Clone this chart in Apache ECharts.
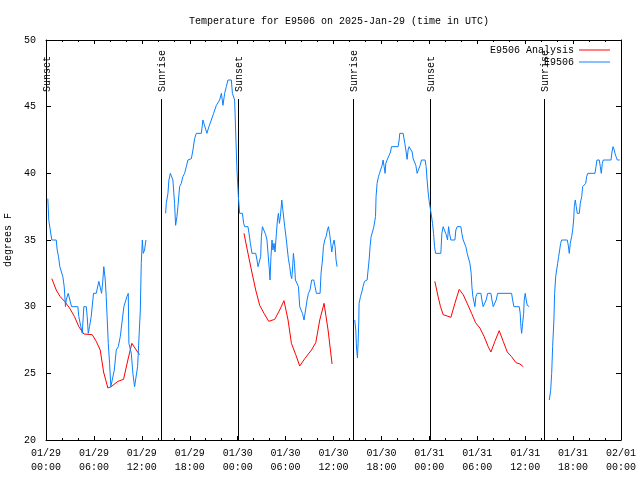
<!DOCTYPE html>
<html><head><meta charset="utf-8">
<script src="https://cdn.jsdelivr.net/npm/echarts@6/dist/echarts.min.js"></script>
<style>html,body{margin:0;padding:0;background:#fff}#c{width:640px;height:480px}</style>
</head><body><div id="c"></div>
<script>
// x values are hours since 2025-01-29 00:00 UTC
const xTickLabels = ['01/29\n00:00','01/29\n06:00','01/29\n12:00','01/29\n18:00','01/30\n00:00','01/30\n06:00','01/30\n12:00','01/30\n18:00','01/31\n00:00','01/31\n06:00','01/31\n12:00','01/31\n18:00','02/01\n00:00'];
const yTicks = [20,25,30,35,40,45,50];

const sunHours  = [0, 14.44, 24.04, 38.47, 48.13, 62.42];
const sunLabels = ['Sunset','Sunrise','Sunset','Sunrise','Sunset','Sunrise'];

// E9506 observations (null = gap)
const blueHours = [
0.23,0.35,0.53,0.73,1.28,1.40,1.57,1.73,1.98,2.11,2.28,2.44,2.53,2.78,3.03,3.20,3.99,4.11,4.36,4.54,4.74,5.04,5.16,5.29,5.45,5.66,5.95,6.29,6.62,6.83,6.96,7.12,7.24,7.42,7.54,7.80,7.96,8.12,8.37,8.55,8.80,9.05,9.30,9.55,9.75,9.96,10.13,10.30,10.38,10.68,10.88,11.09,11.30,11.47,11.63,11.81,11.93,12.06,12.18,12.34,12.51,
13.7,
14.98,15.06,15.27,15.39,15.57,15.77,15.89,16.10,16.23,16.39,16.52,16.73,16.94,17.14,17.36,17.57,17.77,18.20,18.40,18.61,18.82,19.45,19.65,19.86,20.15,20.40,20.70,20.99,21.33,21.53,21.74,21.96,22.16,22.37,22.58,22.78,23.21,23.34,23.62,23.91,24.09,24.25,24.59,24.75,24.88,25.29,25.42,25.59,25.79,26.26,26.42,26.55,26.76,26.88,26.97,27.10,27.30,27.51,27.67,27.89,27.97,28.05,28.17,28.30,28.42,28.55,28.68,28.85,28.98,29.10,29.23,29.35,29.52,29.77,29.89,30.10,30.23,30.35,30.52,30.64,30.77,30.86,30.98,31.11,31.23,31.48,31.61,31.77,31.98,32.11,32.31,32.56,32.69,32.86,33.06,33.27,33.53,33.69,33.86,34.32,34.44,34.62,34.74,34.90,35.07,35.24,35.37,35.53,35.66,35.78,35.91,36.07,36.20,36.32,36.45,
37.5,
38.66,38.79,38.88,39.00,39.08,39.17,39.20,39.38,39.54,39.70,39.88,40.04,40.21,40.33,40.46,40.58,40.71,40.88,41.05,41.17,41.26,41.33,41.46,41.63,41.76,41.96,42.09,42.21,42.34,42.46,42.55,42.71,42.96,43.14,43.26,44.09,44.22,44.30,44.72,44.93,45.06,45.22,45.34,45.47,45.72,45.85,45.97,46.18,46.31,46.47,46.72,46.85,47.02,47.47,47.60,47.72,47.85,47.98,48.15,48.27,48.40,48.53,48.65,48.78,49.44,49.57,49.73,49.94,50.11,50.28,50.41,50.53,50.70,51.20,51.32,51.49,51.95,52.07,52.24,52.45,52.57,52.74,52.95,53.08,53.24,53.33,53.45,53.58,53.70,53.83,53.99,54.46,54.58,54.74,54.99,55.12,55.30,55.71,55.84,56.00,56.25,56.37,56.55,58.30,58.43,58.59,59.26,59.38,59.47,59.56,59.68,59.81,59.88,60.01,60.13,60.26,60.51,
61.8,
63.02,63.19,63.32,63.44,63.60,63.69,63.82,63.94,64.07,64.19,64.32,64.44,64.57,65.27,65.40,65.52,65.65,65.82,65.95,66.07,66.15,66.27,66.40,66.52,66.78,66.90,67.08,67.20,67.45,67.58,67.70,67.83,68.74,68.87,68.99,69.28,69.41,69.53,69.66,69.78,70.75,70.87,71.00,71.13,71.25,71.38,71.54,71.84];
const blueTemps = [
38.1,36.5,35.75,35,35,34.25,33.75,33,33,32.25,31.5,30,30.5,31,31,30,30,29.25,28.5,28,30,30,29.25,28,28.5,29.25,31,31,31.9,32,31,32,33,32,30.75,27.25,25.75,24,24,25.25,26.75,27,27.75,29,30,30,30.75,31,27.25,26.5,25,24,24,25.5,27.5,29.75,33.25,35,34,34.25,35,
null,
37,37.75,38.5,39.5,40,40,39.5,37.75,36.1,36.75,37.5,39,39.25,39.75,40,40.5,41,41.1,41.75,42.6,43,43,44,44,43,43.5,44,44.5,45.1,45.25,45.5,46,45.1,46,46.5,47,47,46,45.5,40.25,38.25,37,37,36.25,36,36,35.5,34.75,34,34,33.5,33,33,33.75,35.25,36,36,35.4,35,35,32.75,32,33.75,35,34.25,34.75,34.1,35.5,36.5,37,36.25,36.75,38,38,36,35,34.25,33.6,33,32.4,32.1,32.75,34,33.25,32,32,31.5,30,30,29.5,29,29,30.5,31,31.25,32,32,31.5,31,31,32.5,33.5,34.5,35,35.25,35.75,36,35.4,34.75,34.1,34.6,35,34.5,33.5,33,
null,
29,28.25,26.9,26.15,27.25,29,30.25,30.75,31.1,31.5,31.9,32,32,32.75,33.5,34.5,35.25,35.6,36,36.1,36.75,38.25,39.25,39.75,40,40.1,40.6,41,40.5,40,40.75,41,41.1,41.6,42,42,42.5,43,43,42.25,41.75,41.05,41.75,42,42,41.6,41.1,41,40.6,40,40,40.6,41,41,40.5,39.5,38.6,37.9,37.25,36.8,36.25,35.5,34.5,34,34,35.5,36,36,35.4,35,36,35.5,35,35,35.75,36,36,35.5,35,35,34.5,34,34,33.25,32.5,31.5,30.75,30.4,30,30.75,31,31,30.5,30,30,30.5,31,31,30.5,30,30,30.5,31,31,30.5,30,30,29.5,28.5,28,28.75,29.5,30.5,31,30.5,30.1,30,
null,
23,23.7,25,27,29,31,32.25,32.75,33.25,33.75,34.25,34.75,35,35,34.6,34,34.75,35.25,35.75,36.5,37.5,38,37.5,37,37,37.75,38.25,39,39,39.25,39.75,40,40,40.5,41,41,40.5,40,40.75,41,41,41.6,42,41.8,41.5,41.25,41,41];

// E9506 Analysis (null = gap)
const redHours = [
0.73,1.28,1.78,2.32,2.95,3.57,4.11,4.74,5.79,6.29,6.79,7.21,7.75,8.17,9.00,9.71,10.25,10.75,11.30,11.72,
18,
24.79,25.29,25.72,26.26,26.76,27.30,27.89,28.64,29.26,29.80,30.31,30.73,31.27,31.77,32.40,33.24,33.78,34.28,34.82,35.32,35.82,
42,
48.69,49.10,49.40,49.73,50.23,50.70,51.20,51.74,52.24,52.74,53.29,53.79,54.33,54.87,55.37,55.71,56.21,56.75,57.25,57.76,58.30,58.84,59.34,59.76];
const redTemps = [
32.1,31.25,30.75,30.4,29.9,29.25,28.5,27.95,27.9,27.4,26.75,25.1,23.9,24,24.4,24.55,26,27.25,26.75,26.4,
null,
35.5,34,32.75,31.25,30.1,29.5,28.9,29.05,29.75,30.45,29,27.25,26.4,25.55,26.1,26.75,27.3,29,30.25,28.25,25.7,
null,
31.9,30.75,30,29.4,29.3,29.2,30.25,31.3,30.9,30.25,29.5,28.8,28.4,27.75,27,26.6,27.4,28.2,27.4,26.6,26.25,25.8,25.7,25.5];

const FONT = '"Liberation Mono","DejaVu Sans Mono",monospace';
const pairs = (xs, ys) => xs.map((x, i) => [x, ys[i] === null ? '-' : ys[i]]);

const chart = echarts.init(document.getElementById('c'), null, {renderer: 'canvas'});
const yMin = yTicks[0], yMax = yTicks[yTicks.length - 1];

const axisCommon = {
  axisLine: {show: true, onZero: false, lineStyle: {color: '#000', width: 1}},
  splitLine: {show: false}
};

chart.setOption({
  animation: false,
  backgroundColor: '#fff',
  title: {
    text: 'Temperature for E9506 on 2025-Jan-29 (time in UTC)',
    left: 334, top: 11, textAlign: 'center',
    textStyle: {fontFamily: FONT, fontSize: 10, fontWeight: 'normal', color: '#000'}
  },
  legend: {
    orient: 'vertical', right: 25, top: 40, align: 'right',
    itemWidth: 31, itemHeight: 1, itemGap: 2, icon: 'rect',
    textStyle: {fontFamily: FONT, fontSize: 10, color: '#000', lineHeight: 10},
    data: ['E9506 Analysis', 'E9506']
  },
  grid: {left: 46, right: 19, top: 40, bottom: 40, containLabel: false, outerBoundsMode: 'none'},
  xAxis: [{
    ...axisCommon, type: 'value', min: 0, max: 72, interval: 6, position: 'bottom',
    axisTick: {show: true, inside: true, length: 4, lineStyle: {color: '#000'}},
    minorTick: {show: true, splitNumber: 3, length: 2, lineStyle: {color: '#000'}},
    axisLabel: {
      fontFamily: FONT, fontSize: 10, color: '#000', margin: 6, lineHeight: 14,
      formatter: v => xTickLabels[Math.round(v / 6)] || ''
    }
  }, {
    ...axisCommon, type: 'value', min: 0, max: 72, interval: 6, position: 'top',
    axisTick: {show: true, inside: true, length: 4, lineStyle: {color: '#000'}},
    minorTick: {show: true, splitNumber: 3, length: 2, lineStyle: {color: '#000'}},
    axisLabel: {show: false}
  }],
  yAxis: [{
    ...axisCommon, type: 'value', min: yMin, max: yMax, interval: 5, position: 'left',
    name: 'degrees F', nameLocation: 'middle', nameGap: 31, nameRotate: 90,
    nameTextStyle: {fontFamily: FONT, fontSize: 10, color: '#000'},
    axisTick: {show: true, inside: true, length: 5, lineStyle: {color: '#000'}},
    axisLabel: {fontFamily: FONT, fontSize: 10, color: '#000', margin: 10}
  }, {
    ...axisCommon, type: 'value', min: yMin, max: yMax, interval: 5, position: 'right',
    axisTick: {show: true, inside: true, length: 5, lineStyle: {color: '#000'}},
    axisLabel: {show: false}
  }],
  series: [{
    type: 'custom', name: 'sun', silent: true, clip: false, z: 1,
    data: sunHours.map(h => [h, yMin]),
    renderItem: (params, api) => {
      const h = api.value(0);
      const top = api.coord([h, yMax]);
      const bot = api.coord([h, yMin]);
      const x = Math.round(top[0]) + 0.5;
      return {type: 'group', children: [
        {type: 'line', shape: {x1: x, y1: top[1] + 59, x2: x, y2: bot[1]},
         style: {stroke: '#000', lineWidth: 1}},
        {type: 'text', x: x + 1, y: top[1] + 52, rotation: Math.PI / 2,
         style: {text: sunLabels[params.dataIndex], fill: '#000', font: '10px ' + FONT,
                 align: 'left', verticalAlign: 'middle'}}
      ]};
    }
  }, {
    type: 'line', name: 'E9506 Analysis', data: pairs(redHours, redTemps),
    showSymbol: false, symbol: 'none', connectNulls: false, z: 2,
    lineStyle: {color: '#ff0000', width: 1}, itemStyle: {color: '#ff0000'}
  }, {
    type: 'line', name: 'E9506', data: pairs(blueHours, blueTemps),
    showSymbol: false, symbol: 'none', connectNulls: false, z: 3,
    lineStyle: {color: '#0a80ff', width: 1}, itemStyle: {color: '#0a80ff'}
  }]
});
</script>
</body></html>
